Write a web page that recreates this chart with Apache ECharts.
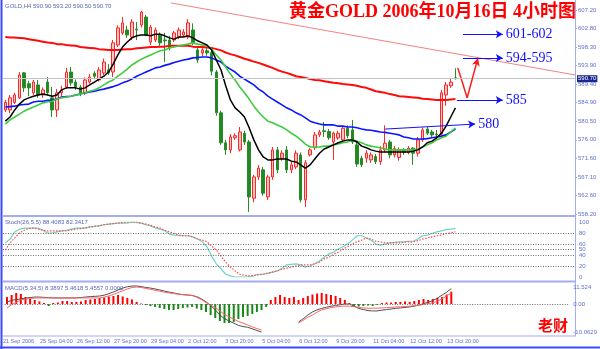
<!DOCTYPE html>
<html>
<head>
<meta charset="utf-8">
<script src="https://cdn.jsdelivr.net/npm/echarts@6.0.0/dist/echarts.min.js"></script>
<style>
html,body{margin:0;padding:0;background:#fff;}
#chart{width:600px;height:349px;}
</style>
</head>
<body>
<div id="chart"></div>
<script>
// ---- GOLD H4 bars, 21 Sep 2006 20:00 .. 13 Oct 2006 20:00 ----
const dateLabels = ['21 Sep 2006','25 Sep 04:00','26 Sep 12:00','27 Sep 20:00','29 Sep 04:00',
  '2 Oct 12:00','3 Oct 20:00','5 Oct 04:00','6 Oct 12:00','9 Oct 20:00','11 Oct 04:00',
  '12 Oct 12:00','13 Oct 20:00'];

const opens = [583.2,583.2,585.0,586.1,592.1,589.5,587.3,589.2,586.8,589.9,
586.1,583.2,587.3,588.7,592.3,589.9,588.7,587.3,589.9,592.0,
590.4,592.1,592.8,592.3,598.8,601.7,602.4,600.7,602.6,603.6,
605.5,599.5,600.0,601.2,600.0,600.0,600.0,600.7,601.2,600.7,
602.4,597.6,596.9,597.4,597.0,592.3,582.5,575.3,573.6,576.5,
573.6,577.6,575.5,562.0,567.1,568.8,562.3,567.1,573.6,571.6,
573.6,568.8,569.5,572.4,561.6,572.4,574.1,577.2,578.2,578.0,
575.5,576.5,576.0,578.8,578.4,574.8,571.6,571.6,571.2,572.0,
570.8,573.6,575.5,572.4,571.8,573.6,573.0,574.0,572.8,576.0,
578.6,577.9,577.4,577.4,586.8,589.0,590.9];

const highs = [585.6,586.8,587.3,592.3,592.3,590.2,590.4,590.4,588.6,591.1,
588.7,588.2,589.0,593.3,593.5,590.5,589.2,591.0,591.8,592.5,
593.5,595.5,594.2,600.0,603.5,605.5,603.4,605.0,604.3,607.0,
606.0,603.6,603.0,601.8,601.7,601.0,602.2,603.0,602.6,605.0,
604.0,598.1,598.3,598.0,597.8,592.8,583.0,576.0,577.4,577.6,
579.1,578.2,576.0,567.6,570.0,569.5,567.6,574.3,574.3,573.5,
574.5,571.0,573.5,573.0,571.2,574.0,577.9,578.4,580.3,578.6,
578.0,578.2,579.3,579.5,580.8,575.5,572.2,573.5,573.0,572.6,
574.5,579.5,576.0,574.5,574.2,574.0,574.5,574.3,576.7,579.0,
579.1,578.4,578.4,588.0,589.9,590.6,593.2];

const lows = [582.7,582.4,584.6,585.8,587.5,586.5,586.8,586.1,586.1,586.8,
581.5,581.5,586.5,588.2,589.0,588.0,586.5,586.8,589.5,590.6,
590.0,591.6,591.6,591.1,598.3,601.2,600.5,600.0,600.0,603.0,
600.9,598.8,599.5,598.6,594.7,597.5,599.5,600.2,600.7,600.2,
598.8,594.5,596.0,596.2,591.5,581.8,574.8,572.4,572.8,576.0,
573.2,574.8,558.7,561.0,566.4,562.6,561.6,566.4,568.0,571.0,
568.0,568.0,569.0,561.0,559.9,572.0,573.6,576.7,576.7,576.0,
571.2,576.0,575.5,576.4,575.0,569.5,569.5,570.5,570.5,570.2,
570.0,573.0,571.6,571.8,571.0,572.4,572.5,570.0,572.0,575.5,
577.2,576.7,576.0,576.9,584.2,588.5,590.5];

const closes = [585.0,586.1,586.8,591.6,588.5,588.5,589.9,586.8,588.0,587.3,
583.2,587.3,588.0,592.3,589.7,588.7,587.3,590.4,591.1,591.3,
592.8,594.7,592.1,599.3,602.9,604.1,601.2,604.3,602.4,606.7,
601.2,603.1,602.4,599.3,599.8,598.1,601.7,602.4,601.9,604.1,
599.3,595.2,597.6,596.9,592.5,582.5,575.3,573.6,576.7,577.0,
577.9,575.5,562.3,567.1,569.2,563.2,567.1,573.6,568.8,572.8,
568.8,570.0,572.8,561.6,570.5,573.6,577.2,577.9,578.0,576.5,
577.6,577.6,578.8,577.0,575.5,570.2,570.0,572.8,572.4,570.8,
573.6,575.2,572.4,573.9,573.6,573.0,574.0,572.8,576.0,578.4,
577.6,577.2,577.2,587.3,589.2,589.9,590.7];

// moving averages on the price window
const maFast = [580.5,581.5,583.2,584.6,585.6,586.1,586.5,586.8,587.0,586.8,
586.5,586.8,588.0,588.5,588.5,588.5,588.2,588.5,589.2,589.9,
590.6,591.3,592.3,594.2,596.4,598.3,599.5,600.5,601.0,601.2,
601.2,601.0,601.4,601.4,601.0,600.5,600.2,600.7,600.7,601.0,
600.5,599.8,599.3,598.8,597.6,595.2,592.8,589.0,585.6,583.7,
582.7,581.5,578.9,576.0,573.6,571.9,571.2,571.2,571.4,571.4,
571.4,570.9,570.7,570.0,569.2,570.0,571.4,572.8,573.8,574.3,
574.8,575.3,575.7,576.0,576.0,575.5,574.5,574.1,573.6,573.3,
573.1,573.1,573.1,573.1,573.1,573.1,573.1,573.3,573.6,574.3,
575.3,575.7,576.5,577.6,579.3,581.5,583.7];

const maMedium = [579.8,580.8,581.5,582.2,582.9,583.4,583.9,584.4,584.9,585.1,
585.3,585.8,586.1,586.3,586.5,586.8,587.0,587.3,587.7,588.0,
588.5,589.2,589.9,590.4,591.3,592.1,593.0,594.0,594.7,595.4,
595.9,596.4,596.9,597.4,597.6,598.1,598.3,598.6,598.8,599.0,
599.3,599.0,598.8,598.6,597.8,596.4,595.2,593.5,591.8,590.4,
588.7,587.3,585.8,584.1,582.7,581.5,580.5,580.1,579.6,579.1,
578.4,577.6,576.9,576.0,575.0,574.3,574.3,574.3,574.5,574.5,
574.8,575.0,575.3,575.5,576.0,575.7,575.3,574.8,574.5,574.3,
574.1,573.8,573.6,573.6,573.6,573.6,573.6,573.6,573.8,574.3,
574.8,575.3,576.0,576.5,576.9,577.9,578.9];

const maSlow = [583.9,584.0,584.1,584.4,584.5,584.6,585.1,585.3,585.3,585.5,
585.6,585.8,586.3,586.4,586.5,586.8,587.0,587.3,587.5,587.7,
588.0,588.2,588.5,588.8,589.2,589.7,590.1,590.6,591.3,591.8,
592.3,592.8,593.3,593.5,593.9,594.2,594.6,594.9,595.2,595.4,
595.7,595.8,595.9,595.9,595.7,595.2,594.7,593.7,593.0,592.3,
591.3,590.6,589.9,589.2,588.2,587.5,586.5,585.8,585.1,584.4,
583.7,583.2,582.5,582.0,581.3,580.5,580.1,579.8,579.6,579.6,
579.6,579.3,579.3,579.1,579.1,578.9,578.6,578.4,578.3,578.1,
577.9,577.8,577.6,577.4,577.2,576.7,576.5,576.2,576.2,576.2,
576.3,576.5,576.7,576.9,577.2,577.9,578.6];

const maLong = [600.7,600.6,600.6,600.5,600.4,600.2,600.0,599.8,599.6,599.4,
599.3,599.0,599.0,598.8,598.7,598.6,598.3,598.2,598.1,598.0,
597.8,597.7,597.6,597.6,597.6,597.7,597.8,597.8,598.0,598.1,
598.2,598.3,598.3,598.4,598.4,598.6,598.6,598.6,598.6,598.6,
598.4,598.3,598.3,598.2,598.1,597.8,597.5,597.0,596.6,596.3,
595.9,595.5,595.2,594.8,594.5,594.1,593.7,593.3,592.8,592.4,
592.1,591.7,591.3,591.1,590.9,590.6,590.4,590.3,590.1,589.9,
589.7,589.6,589.4,589.3,589.2,589.0,588.7,588.5,588.1,587.7,
587.5,587.3,587.0,586.8,586.5,586.4,586.3,586.2,586.1,585.9,
585.8,585.7,585.6,585.6,585.6,585.7,585.8];

// Stochastic(26,5,5)
const stochK = [62,69,82,87,89,89,89,89,85,80,
80,82,84,85,87,89,89,89,91,92,
93,95,96,97,98,98,98,100,99,98,
95,93,89,87,84,78,76,75,75,75,
73,69,64,55,38,24,15,5,2,0,
0,0,0,2,5,5,7,9,11,16,
22,23,24,22,18,20,24,29,36,42,
45,51,55,60,67,75,75,71,67,60,
58,60,62,63,64,64,65,65,69,75,
76,79,82,84,86,87,88.4083];

const stochD = [49,62,71,80,85,88,89,87,85,84,
84,84,84,84,85,87,88,89,91,92,
93,95,96,97,98,99,100,100,100,98,
96,94,91,89,85,82,79,76,75,75,
73,69,67,64,56,49,38,27,18,11,
5,3,2,3,4,5,7,9,11,14,
16,18,20,22,22,22,24,27,33,36,
41,45,51,55,60,64,67,71,69,65,
64,62,62,62,62,63,64,64,66,69,
71,73,75,76,79,80,82.3417];

const stochTicks = [0, 20, 40, 50, 60, 80, 100];
const stochLevels = [20, 40, 50, 60, 80];

// MACD(5,34,5)
const macdHist = [4.7,6.1,7.5,6.8,4.7,3.4,2.7,1.7,0.7,-1.4,
0.7,1.0,2.0,2.0,1.4,1.4,1.7,2.7,3.1,3.4,
4.1,4.4,5.1,5.4,6.1,5.1,4.1,3.1,1.4,0.3,
-0.7,-1.4,-2.0,-2.7,-3.4,-4.1,-4.1,-3.4,-2.7,-2.4,
-2.0,-3.1,-4.1,-5.4,-7.5,-9.5,-11.5,-12.9,-12.9,-12.2,
-10.2,-8.8,-8.1,-6.8,-5.4,-4.1,-2.0,2.7,4.7,6.1,
4.7,4.1,4.7,2.7,4.1,5.4,6.4,7.1,7.5,6.8,
6.1,5.4,4.1,2.7,0.7,-2.0,-1.7,-1.4,-1.0,-1.4,
-0.7,0.7,1.0,1.0,1.4,1.4,1.7,1.4,2.0,2.7,
3.4,2.7,3.4,4.1,4.7,6.4,8.3897];

const macdMain = [1.4,2.4,3.0,3.5,4.0,4.4,4.7,4.7,4.5,4.3,
4.1,4.1,4.1,4.1,4.1,4.2,4.4,4.7,5.0,5.2,
5.4,6.0,7.0,8.2,9.5,10.8,11.7,12.2,12.2,11.8,
11.2,10.8,10.2,9.5,8.8,8.1,7.5,6.8,6.3,6.1,
5.8,5.0,3.5,1.5,-1.0,-4.0,-7.5,-10.0,-11.5,-13.0,
-14.5,-15.3,-15.8,-16.8,-18.0,-19.0,null,null,null,null,
null,null,null,-12.2,-10.0,-7.5,-5.4,-4.0,-3.0,-2.2,
-1.5,-1.0,-0.5,0,0,-1.5,-3.0,-3.8,-4.5,-4.7,
-4.7,-4.2,-3.8,-3.4,-2.9,-2.7,-2.3,-2.0,-1.5,-0.7,
0.2,1.2,2.3,4.0,6.0,8.0,10.5];

const macdSignal = [-2.7,-0.5,1.2,2.7,3.3,3.7,4.0,4.1,4.1,4.1,
4.1,4.1,4.1,4.1,4.1,4.1,4.1,4.1,4.1,4.1,
4.1,4.6,5.5,6.5,7.8,9.0,10.2,11.2,11.5,11.2,
10.6,10.0,9.3,8.7,8.0,7.5,7.0,6.7,6.4,6.1,
5.8,4.5,3.0,1.0,-0.7,-2.5,-4.7,-7.0,-8.8,-10.2,
-11.8,-13.0,-14.2,-15.5,-16.7,-17.6,null,null,null,null,
null,null,null,-12.9,-11.0,-9.0,-7.5,-5.5,-4.0,-3.2,
-2.5,-2.0,-1.6,-1.4,-1.5,-1.8,-2.3,-2.7,-2.9,-2.9,
-2.8,-2.7,-2.5,-2.3,-2.0,-1.9,-1.7,-1.5,-1.2,-0.8,
-0.3,0.3,0.7,2.0,3.5,5.5,7.5];

// axis tick labels
const priceTicks = ['558.20','562.60','567.10','571.60','576.00','580.50','584.90',
  '589.40','593.90','598.30','602.80','607.20'];
const macdTicks = ['-10.0629','','','','','0.00','','','11.524'];

// drawn objects: resistance trend line, projected path, target levels (bar index, price)
const trendX = [35.3, 121.5];
const trendY = [608.9, 591.6];
const pathX = [96.5, 98.5, 100.8];
const pathY = [593.3, 586.1, 595.7];
const targetNames = ['601-602', '594-595', '585', '580'];
const targetX0 = [97.6, 97.6, 96.3, 81.0];
const targetY0 = [601.4, 595.7, 585.6, 578.6];
const targetX1 = [106.1, 106.1, 106.1, 100.2];
const targetY1 = [601.4, 595.7, 585.6, 579.8];

// ---- chart ----
const SLOTS = 122; // bars plus empty space on the right
const slotIds = Array.from({length: SLOTS}, (_, i) => String(i));
const candles = opens.map((o, i) => [o, closes[i], lows[i], highs[i]]);
const last = opens.length - 1;

const axisBlue = '#5f70cc';
const frameBlue = '#a3adf0';
const smallFont = 'Liberation Sans, Arial, sans-serif';

const hiddenCat = g => ({type: 'category', gridIndex: g, data: slotIds, boundaryGap: true, show: false});
const infoText = (text, left, top) => ({
  text, left, top, padding: 0,
  textStyle: {fontSize: 6, fontWeight: 'normal', color: '#5868b8', fontFamily: smallFont}
});

const chart = echarts.init(document.getElementById('chart'), null, {renderer: 'canvas'});

const option = {
  animation: false,
  backgroundColor: '#ffffff',
  title: [
    {
      text: '黄金GOLD 2006年10月16日 4小时图', left: 289, top: 3, padding: 0,
      textStyle: {color: '#ff0000', fontSize: 18, fontWeight: 'bold',
        fontFamily: 'Liberation Serif, Noto Sans CJK SC, serif'}
    },
    infoText('GOLD,H4 ' + [opens[last], highs[last], lows[last], closes[last]].map(v => v.toFixed(2)).join(' '), 5, 3),
    infoText('Stoch(26,5,5) ' + stochK[last].toFixed(4) + ' ' + stochD[last].toFixed(4), 5, 219),
    infoText('MACD(5,34,5) ' + macdHist[last].toFixed(4) + ' 5.4618 5.4557 0.0000', 5, 285),
    {
      text: '老财', left: 538, top: 318, padding: 0,
      textStyle: {color: '#ff0000', fontSize: 15, fontWeight: 'bold', fontFamily: 'Noto Sans CJK SC, sans-serif'}
    }
  ],
  grid: [
    {left: 3, right: 25, top: 10, height: 204},
    {left: 3, right: 25, top: 222, height: 55},
    {left: 3, right: 25, top: 287, height: 45}
  ],
  xAxis: [
    hiddenCat(0),
    hiddenCat(1),
    {
      type: 'category', gridIndex: 2, data: slotIds, boundaryGap: true,
      axisLine: {show: false}, axisTick: {show: false}, splitLine: {show: false},
      axisLabel: {
        interval: 7, align: 'left', margin: 6, fontSize: 5.5, color: axisBlue, fontFamily: smallFont,
        padding: [0, 0, 0, -4],
        formatter: (v, i) => dateLabels[i / 8] || ''
      }
    },
    {type: 'value', gridIndex: 0, min: -0.5, max: SLOTS - 0.5, show: false}
  ],
  yAxis: [
    {type: 'value', gridIndex: 0, min: 558.2, max: 607.2, show: false},
    {
      type: 'category', gridIndex: 0, position: 'right', data: priceTicks, boundaryGap: false,
      axisLine: {show: false},
      axisTick: {show: true, length: 2, lineStyle: {color: frameBlue}},
      axisLabel: {interval: 0, margin: 3, fontSize: 6, color: axisBlue, fontFamily: smallFont},
      splitLine: {show: false}
    },
    {
      type: 'value', gridIndex: 1, position: 'right', min: 0, max: 100, interval: 10,
      splitLine: {show: false}, axisLine: {show: false}, axisTick: {show: false},
      axisLabel: {margin: 4, fontSize: 6, color: axisBlue, fontFamily: smallFont,
        formatter: v => stochTicks.includes(v) ? String(v) : ''}
    },
    {type: 'value', gridIndex: 2, min: -19, max: 11.524, show: false},
    {
      type: 'category', gridIndex: 2, position: 'right', data: macdTicks, boundaryGap: false,
      axisLine: {show: false}, axisTick: {show: false}, splitLine: {show: false},
      axisLabel: {interval: 0, margin: 4, fontSize: 6, color: axisBlue, fontFamily: smallFont}
    }
  ],
  series: [
    {
      type: 'candlestick', name: 'GOLD', xAxisIndex: 0, yAxisIndex: 0, data: candles,
      barWidth: 3,
      itemStyle: {color: '#ffc6c6', color0: '#1f8a1f', borderColor: '#ff2626', borderColor0: '#2a8a2a', borderWidth: 1},
      markLine: {
        silent: true, symbol: 'none',
        lineStyle: {color: '#c4c4c4', width: 1, type: 'solid'},
        label: {
          show: true, position: 'end', distance: 2, formatter: closes[last].toFixed(2),
          color: '#ffffff', backgroundColor: '#1b278f', padding: [1, 1, 0, 1],
          fontSize: 6, fontFamily: smallFont
        },
        data: [{yAxis: closes[last]}]
      }
    },
    {type: 'line', name: 'MA long', xAxisIndex: 0, yAxisIndex: 0, data: maLong, showSymbol: false,
      lineStyle: {color: '#ff0a0a', width: 2}},
    {type: 'line', name: 'MA slow', xAxisIndex: 0, yAxisIndex: 0, data: maSlow, showSymbol: false,
      lineStyle: {color: '#0a16ff', width: 1.6}},
    {type: 'line', name: 'MA medium', xAxisIndex: 0, yAxisIndex: 0, data: maMedium, showSymbol: false,
      lineStyle: {color: '#3fcb3f', width: 1.6}},
    {type: 'line', name: 'MA fast', xAxisIndex: 0, yAxisIndex: 0, data: maFast, showSymbol: false,
      lineStyle: {color: '#000000', width: 1.5}},
    {
      type: 'line', name: 'trend', xAxisIndex: 3, yAxisIndex: 0, clip: false,
      data: trendX.map((x, i) => [x, trendY[i]]), showSymbol: false, symbol: 'none',
      lineStyle: {color: '#f08484', width: 1}
    },
    {
      type: 'line', name: 'path', xAxisIndex: 3, yAxisIndex: 0, clip: false,
      data: pathX.slice(0, 2).map((x, i) => [x, pathY[i]]), showSymbol: false, symbol: 'none',
      lineStyle: {color: '#ff1a1a', width: 1.5},
      markLine: {
        silent: true, symbol: ['none', 'arrow'], symbolSize: [6, 8],
        label: {show: false},
        lineStyle: {color: '#ff1a1a', width: 1.5, type: 'solid'},
        data: [[{coord: [pathX[1], pathY[1]]}, {coord: [pathX[2], pathY[2]]}]]
      }
    },
    {
      type: 'line', name: 'targets', xAxisIndex: 3, yAxisIndex: 0, clip: false,
      data: [], showSymbol: false,
      markLine: {
        silent: true, symbol: ['none', 'arrow'], symbolSize: [6, 7],
        lineStyle: {color: '#1010ff', width: 1, type: 'solid'},
        label: {
          show: true, position: 'end', distance: 3, formatter: '{b}',
          color: '#1010ff', fontSize: 14, fontFamily: 'Liberation Serif, Times New Roman, serif'
        },
        data: targetNames.map((n, i) => [
          {name: n, coord: [targetX0[i], targetY0[i]]},
          {coord: [targetX1[i], targetY1[i]]}
        ])
      }
    },
    {
      type: 'line', name: 'Stoch %K', xAxisIndex: 1, yAxisIndex: 2, data: stochK, showSymbol: false,
      lineStyle: {color: '#6fd4c2', width: 1.2},
      markLine: {
        silent: true, symbol: 'none', label: {show: false},
        lineStyle: {color: '#6a6a6a', width: 1, type: [1, 1.5]},
        data: stochLevels.map(v => ({yAxis: v}))
      }
    },
    {type: 'line', name: 'Stoch %D', xAxisIndex: 1, yAxisIndex: 2, data: stochD, showSymbol: false,
      lineStyle: {color: '#ff4c4c', width: 1.2, type: [1.5, 1.5]}},
    {
      type: 'bar', name: 'MACD', xAxisIndex: 2, yAxisIndex: 3, data: macdHist, barWidth: 2,
      itemStyle: {color: p => p.value >= 0 ? '#ff0000' : '#168a16'},
      markLine: {
        silent: true, symbol: 'none', label: {show: false},
        lineStyle: {color: '#6a6a6a', width: 1, type: [1, 1.5]},
        data: [{yAxis: 0}]
      }
    },
    {type: 'line', name: 'MACD main', xAxisIndex: 2, yAxisIndex: 3, data: macdMain, showSymbol: false,
      clip: false, connectNulls: false, lineStyle: {color: '#505050', width: 1}},
    {type: 'line', name: 'MACD signal', xAxisIndex: 2, yAxisIndex: 3, data: macdSignal, showSymbol: false,
      clip: false, connectNulls: false, lineStyle: {color: '#ff6464', width: 1}}
  ],
  graphic: [
    {type: 'line', silent: true, shape: {x1: 1.5, y1: 0, x2: 1.5, y2: 349}, style: {stroke: '#3a4cf5', lineWidth: 2}},
    {type: 'line', silent: true, shape: {x1: 0, y1: 347.5, x2: 600, y2: 347.5}, style: {stroke: '#3a4cf5', lineWidth: 2}},
    {type: 'line', silent: true, shape: {x1: 3, y1: 216, x2: 576, y2: 216}, style: {stroke: frameBlue, lineWidth: 2}},
    {type: 'line', silent: true, shape: {x1: 3, y1: 281.5, x2: 576, y2: 281.5}, style: {stroke: frameBlue, lineWidth: 2}},
    {type: 'line', silent: true, shape: {x1: 3, y1: 336, x2: 576, y2: 336}, style: {stroke: frameBlue, lineWidth: 1}},
    {type: 'line', silent: true, shape: {x1: 575.5, y1: 0, x2: 575.5, y2: 336}, style: {stroke: frameBlue, lineWidth: 1}}
  ]
};

chart.setOption(option);
</script>
</body>
</html>
